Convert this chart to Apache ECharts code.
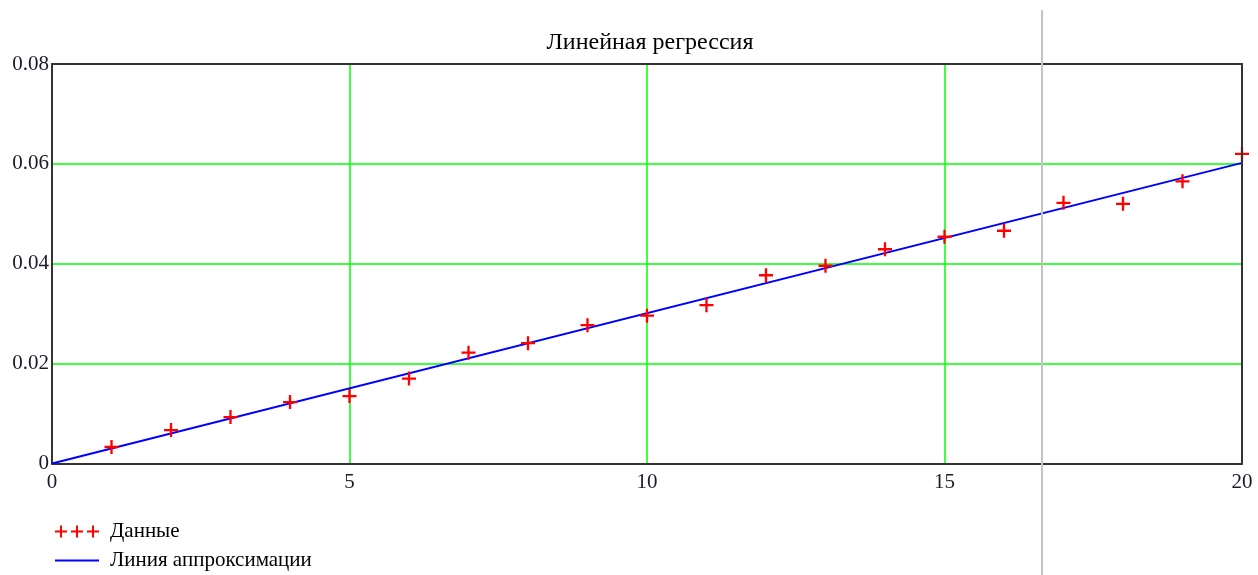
<!DOCTYPE html>
<html>
<head>
<meta charset="utf-8">
<script src="https://cdn.jsdelivr.net/npm/echarts@6/dist/echarts.min.js"></script>
<style>html,body{margin:0;padding:0;background:#fff}#c{width:1258px;height:575px}</style>
</head>
<body>
<div id="c"></div>
<script>
const titleText = "Линейная регрессия";
const dataName = "Данные";
const lineName = "Линия аппроксимации";
const dataX = [1,2,3,4,5,6,7,8,9,10,11,12,13,14,15,16,17,18,19,20];
const dataY = [0.0033,0.0067,0.0093,0.0123,0.0135,0.0170,0.0222,0.0241,0.0277,0.0296,0.0317,0.0377,0.0396,0.0429,0.0454,0.0466,0.0522,0.0520,0.0565,0.0620];
const fitX = [0, 20];
const fitY = [0, 0.0602];
const xTicks = [0,5,10,15,20];
const yTicks = [0,0.02,0.04,0.06,0.08];

const cross = 'path://M5,0H7V5H12V7H7V12H5V7H0V5H5Z';
const cross3 = 'path://M5,0H7V5H12V7H7V12H5V7H0V5H5Z M21,0H23V5H28V7H23V12H21V7H16V5H21Z M37,0H39V5H44V7H39V12H37V7H32V5H37Z';
const serif = '"Liberation Serif","Times New Roman",serif';
const frame = {show:true,onZero:false,lineStyle:{color:'#333',width:2}};

const chart = echarts.init(document.getElementById('c'), null, {renderer:'canvas'});
chart.setOption({
  animation:false,
  backgroundColor:'#fff',
  title:{text:titleText,left:645,top:26,textAlign:'center',textStyle:{fontFamily:serif,fontSize:24,fontWeight:'normal',color:'#000'}},
  grid:{left:52,right:16,top:64,bottom:111.5},
  xAxis:[{type:'value',min:xTicks[0],max:xTicks[xTicks.length-1],interval:5,z:1,
    axisLine:frame,axisTick:{show:false},
    splitLine:{show:true,lineStyle:{color:'#00ff00',width:1.5}},
    axisLabel:{fontFamily:serif,fontSize:21,color:'#1a1a2a',margin:8}},
    {type:'value',position:'top',min:xTicks[0],max:xTicks[xTicks.length-1],interval:5,z:5,
    axisLine:frame,axisTick:{show:false},splitLine:{show:false},axisLabel:{show:false}}],
  yAxis:[{type:'value',min:yTicks[0],max:yTicks[yTicks.length-1],interval:0.02,z:1,
    axisLine:frame,axisTick:{show:false},
    splitLine:{show:true,lineStyle:{color:'#00ff00',width:1.5}},
    axisLabel:{fontFamily:serif,fontSize:21,color:'#1a1a2a',margin:3,verticalAlign:'middle',padding:[4,0,0,0]}},
    {type:'value',position:'right',min:yTicks[0],max:yTicks[yTicks.length-1],interval:0.02,z:5,
    axisLine:frame,axisTick:{show:false},splitLine:{show:false},axisLabel:{show:false}}],
  legend:{orient:'vertical',left:55,top:521,padding:0,itemGap:8,itemWidth:44,itemHeight:12,
    textStyle:{fontFamily:serif,fontSize:21,color:'#000',padding:[0,0,0,6]},
    data:[{name:dataName,icon:cross3,itemStyle:{color:'#ff0000'}},{name:lineName,icon:'path://M0,5H44V7H0Z',itemStyle:{color:'#0000ff'}}]},
  graphic:[{type:'line',z:100,shape:{x1:1042,y1:10,x2:1042,y2:575},style:{stroke:'#c4c4c4',lineWidth:2}}],
  series:[
    {name:lineName,type:'line',data:fitX.map((x,i)=>[x,fitY[i]]),symbol:'none',lineStyle:{color:'#0000ff',width:2},itemStyle:{color:'#0000ff'},z:3},
    {name:dataName,type:'scatter',data:dataX.map((x,i)=>[x,dataY[i]]),symbol:cross,symbolSize:14,itemStyle:{color:'#ff0000',opacity:1},z:4,clip:true}
  ]
});
</script>
</body>
</html>
